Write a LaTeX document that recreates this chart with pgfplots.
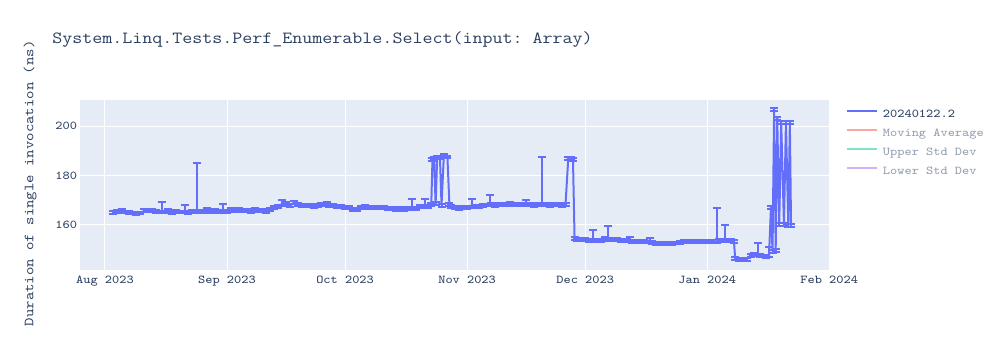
\documentclass[border=0pt]{standalone}
\usepackage{pgfplots}
\pgfplotsset{compat=1.18}
\usepackage{pgfplotstable}
\usepackage{fontspec}
\setmonofont[FakeStretch=1.143]{Latin Modern Mono}
\definecolor{plotblue}{HTML}{636EFA}
\definecolor{txt}{HTML}{2A3F5F}
\definecolor{txtfade}{HTML}{949FAF}
\definecolor{bg}{HTML}{E5ECF6}
\definecolor{mafade}{HTML}{F7AA9D}
\definecolor{upfade}{HTML}{7FE5CA}
\definecolor{lofade}{HTML}{D5B1FC}

\pgfplotstableread{
x y ep em
2.1 165.0 .6 .6
3 165.2 .6 .6
4.2 165.4 1.0 .6
5 165.1 .6 .6
6 164.9 .6 .6
7 164.7 .6 .6
8 164.5 .6 .6
9 164.7 .6 .6
10 165.6 .6 .6
11 165.8 .6 .6
12 165.6 .6 .6
13 165.3 .6 .6
14.4 165.4 3.7 .6
15 165.1 .6 .6
16 165.7 .6 .6
17 164.9 .6 .6
18 165.4 .6 .6
19 165.1 .6 .6
20.3 165.6 2.2 .6
21 164.9 .6 .6
22 165.3 .6 .6
23.3 165.2 20.0 .6
24 165.3 .6 .6
25 165.5 .6 .6
26 166.0 .6 .6
27 165.5 .6 .6
28 165.8 .6 .6
29 165.3 .6 .6
30 165.7 2.6 .6
31 165.5 .6 .6
32 166.0 .6 .6
33 165.7 .6 .6
34 166.0 .6 .6
35 165.6 .6 .6
36 165.9 .6 .6
37 165.5 .6 .6
38 166.0 .6 .6
39 165.7 .6 .6
40 165.8 .6 .6
41 165.5 .6 .6
42 166.2 .6 .6
43 166.8 .6 .6
44 167.5 .6 .6
45 168.3 1.8 .6
46 168.5 .6 .6
47 167.6 .6 .6
48 168.9 .6 .6
49 168.0 .6 .6
50 167.8 .6 .6
51 167.6 .6 .6
52 167.9 .6 .6
53 167.5 .6 .6
54 167.7 .6 .6
55 168.0 .6 .6
56.3 168.5 .6 .6
57 167.9 .6 .6
58 167.6 .6 .6
59 167.3 .6 .6
60 167.2 .6 .6
61 167.0 .6 .6
62 166.8 .6 .6
63 166.0 .6 .6
64 166.3 .6 .6
65 167.0 .6 .6
66 167.2 .6 .6
67 167.1 .6 .6
68 166.9 .6 .6
69 166.8 .6 .6
70 167.1 .6 .6
71 166.8 .6 .6
72 166.5 .6 .6
73 166.6 .6 .6
74 166.3 .6 .6
75 166.4 .6 .6
76 166.2 .6 .6
77 166.5 .6 .6
78 167.0 3.3 .6
79 166.5 .6 .6
80 167.2 .6 .6
81.4 167.5 2.8 .6
82 167.3 .6 .6
82.9 168.2 .6 .6
83.2 186.5 .6 .6
83.6 187.0 .6 .6
84.0 168.5 .6 .6
84.4 187.5 .6 .6
85.1 187.3 .6 .6
85.5 167.9 .6 .6
86.1 188.3 .6 .6
87.0 187.5 .6 .6
87.5 168.2 .6 .6
88 167.5 .6 .6
89 167.0 .6 .6
90 166.6 .6 .6
91 166.9 .6 .6
92 167.1 .6 .6
93.2 167.8 2.7 .6
94 167.3 .6 .6
95 167.4 .6 .6
96 167.6 .6 .6
97.8 168.2 3.8 .6
98 168.0 .6 .6
99 167.9 .6 .6
100 168.2 .6 .6
101 168.0 .6 .6
102 168.3 .6 .6
103 168.5 .6 .6
104 168.3 .6 .6
105 168.0 .6 .6
106 168.2 .6 .6
107 168.5 1.5 .6
108 168.0 .6 .6
109 167.8 .6 .6
110 168.0 .6 .6
111 168.2 19.2 .6
112 168.0 .6 .6
113 167.8 .6 .6
114 168.0 .6 .6
115 168.2 .6 .6
116 167.9 .6 .6
117 168.1 .6 .6
117.7 186.8 .6 .6
118.4 186.8 .6 .6
118.9 186.5 .6 .6
119.3 154.4 .6 .6
120 154.0 .6 .6
121 153.9 .6 .6
122 153.8 .6 .6
123 153.5 .6 .6
124 153.8 3.9 .6
125 153.6 .6 .6
126 153.5 .6 .6
127 154.2 .6 .6
127.8 154.5 5.0 .6
128 154.0 .6 .6
129 153.9 .6 .6
130 153.8 .6 .6
131 153.6 .6 .6
132 153.4 .6 .6
133.4 154.0 1.0 .6
134 153.2 .6 .6
135 153.0 .6 .6
136 153.3 .6 .6
137 153.1 .6 .6
138.5 153.5 1.0 .6
139 152.6 .6 .6
140 152.3 .6 .6
141 152.4 .6 .6
142 152.5 .6 .6
143 152.3 .6 .6
144 152.4 .6 .6
145 152.5 .6 .6
146 152.8 .6 .6
147 153.0 .6 .6
148 153.1 .6 .6
149 153.3 .6 .6
150 153.2 .6 .6
151 153.0 .6 .6
152 153.1 .6 .6
153 153.3 .6 .6
154 153.0 .6 .6
155.4 153.2 13.4 .6
156 153.5 .6 .6
157.5 153.8 6.0 .6
158 153.5 .6 .6
159 153.4 .6 .6
159.8 153.2 .6 .6
160.1 146.3 .6 .6
161 145.8 .6 .6
162 145.6 .6 .6
163 145.8 .6 .6
164 147.5 .6 .6
165 148.0 .6 .6
166 148.0 4.6 .6
166.5 147.4 .6 .6
167 147.2 .6 .6
168 147.0 .6 .6
168.7 147.3 3.4 .6
169.2 166.8 .6 .6
169.6 149.0 .6 .6
170.0 206.8 .6 .6
170.4 149.5 .6 .6
170.8 203.3 .6 .6
171.3 160.0 .6 .6
171.8 201.5 .6 .6
172.5 160.0 .6 .6
173.0 201.5 .6 .6
173.6 159.8 .6 .6
174.0 201.5 .6 .6
174.3 159.8 .6 .6
}\datatable

\begin{document}
\begin{tikzpicture}
\path (0pt,0pt) rectangle (750pt,262.5pt);
\begin{axis}[
  at={(60pt,60pt)}, anchor=south west,
  scale only axis, width=562.5pt, height=127.5pt,
  xmin=-6.35, xmax=184.2, ymin=141.5, ymax=210.7,
  axis background/.style={fill=bg},
  axis line style={draw=none},
  major tick length=0pt,
  grid=major,
  major grid style={white, line width=0.75pt},
  xtick={0,31,61,92,122,153,184},
  xticklabels={Aug 2023,Sep 2023,Oct 2023,Nov 2023,Dec 2023,Jan 2024,Feb 2024},
  ytick={160,180,200},
  /pgf/number format/assume math mode=true,
  /pgf/number format/1000 sep={},
  tick label style={font=\ttfamily\fontsize{9}{11}\selectfont, text=txt},
  xticklabel style={inner sep=0pt, anchor=north, yshift=-4pt},
  yticklabel style={inner sep=0pt, anchor=east, xshift=-2pt},
  legend style={at={(1.0213,0.947)}, anchor=north west, draw=none, fill=none,
    inner sep=0pt, outer sep=0pt, row sep=5.75pt,
    font=\ttfamily\fontsize{9}{11}\selectfont,
    nodes={inner sep=0pt, text height=6.5pt, text depth=2pt},
    /tikz/every odd column/.append style={column sep=3.75pt}},
  legend cell align=left,
  legend image code/.code={\draw[#1, line width=1.5pt] (0pt,2.5pt) -- (22.5pt,2.5pt);},
]
\addplot[color=plotblue, line width=1.5pt, no marks,
  error bars/.cd, y dir=both, y explicit,
  error bar style={line width=1.5pt, color=plotblue},
  error mark options={rotate=90, mark size=3pt, line width=1.5pt, color=plotblue}]
  table[x=x, y=y, y error plus=ep, y error minus=em] {\datatable};
\addlegendentry{\textcolor{txt}{20240122.2}}
\addlegendimage{color=mafade}
\addlegendentry{\textcolor{txtfade}{Moving Average}}
\addlegendimage{color=upfade}
\addlegendentry{\textcolor{txtfade}{Upper Std Dev}}
\addlegendimage{color=lofade}
\addlegendentry{\textcolor{txtfade}{Lower Std Dev}}
\end{axis}
\node[anchor=base west, inner sep=0pt, text=txt, font=\ttfamily\fontsize{12.75}{15}\selectfont] at (39pt,229.5pt) {System.Linq.Tests.Perf\_Enumerable.Select(input: Array)};
\node[anchor=center, inner sep=0pt, rotate=90, text=txt, font=\ttfamily\fontsize{10.5}{13}\selectfont] at (22.5pt,125pt) {Duration of single invocation (ns)};
\end{tikzpicture}
\end{document}
